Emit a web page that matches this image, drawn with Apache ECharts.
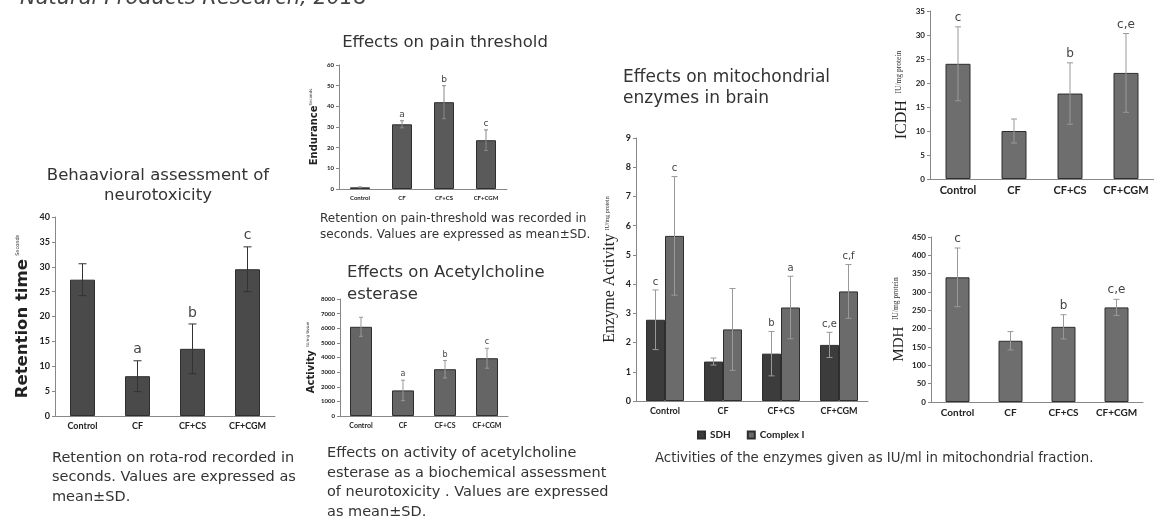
<!DOCTYPE html>
<html>
<head>
<meta charset="utf-8">
<script src="https://cdn.jsdelivr.net/npm/echarts@6/dist/echarts.min.js"></script>
<style>
  html, body { margin: 0; padding: 0; background: #fff; }
  #main { width: 1154px; height: 517px; }
</style>
</head>
<body>
<div id="main"></div>
<script>
// groups shared by every panel
const groups = ['Control', 'CF', 'CF+CS', 'CF+CGM'];

// behavioural assessment (rota-rod), seconds
const retentionMean = [27.4, 8.0, 13.5, 29.5];
const retentionSD = [3.2, 3.1, 5.0, 4.5];
const retentionSig = ['', 'a', 'b', 'c'];

// pain threshold, seconds
const painMean = [0.8, 31.3, 42.0, 23.6];
const painSD = [0.2, 1.7, 8.0, 5.0];
const painSig = ['', 'a', 'b', 'c'];

// acetylcholine esterase, IU/mg tissue
const acheMean = [6100, 1750, 3200, 3950];
const acheSD = [650, 700, 600, 680];
const acheSig = ['', 'a', 'b', 'c'];

// mitochondrial enzymes, IU/mg protein
const sdhMean = [2.78, 1.35, 1.62, 1.92];
const sdhSD = [1.02, 0.12, 0.76, 0.43];
const sdhSig = ['c', '', 'b', 'c,e'];
const complexMean = [5.65, 2.45, 3.2, 3.75];
const complexSD = [2.03, 1.4, 1.07, 0.92];
const complexSig = ['c', '', 'a', 'c,f'];

const icdhMean = [24.0, 10.0, 17.8, 22.1];
const icdhSD = [7.7, 2.5, 6.4, 8.2];
const icdhSig = ['c', '', 'b', 'c,e'];

const mdhMean = [340, 167, 205, 258];
const mdhSD = [80, 25, 33, 22];
const mdhSig = ['c', '', 'b', 'c,e'];

const SANS = 'DejaVu Sans';
const AX = 'Lato';
const SERIF = 'Liberation Serif';

function errorBars(sd, sig, shift, o) {
  return function (params, api) {
    const i = params.dataIndex;
    const v = api.value(1);
    const top = api.coord([i, v + sd[i]]);
    const bot = api.coord([i, Math.max(v - sd[i], 0)]);
    const x = top[0] + shift;
    const ls = { stroke: o.color, lineWidth: 1 };
    return {
      type: 'group',
      children: [
        { type: 'line', shape: { x1: x, y1: top[1], x2: x, y2: bot[1] }, style: ls },
        { type: 'line', shape: { x1: x - o.cap, y1: top[1], x2: x + o.cap, y2: top[1] }, style: ls },
        { type: 'line', shape: { x1: x - o.cap, y1: bot[1], x2: x + o.cap, y2: bot[1] }, style: ls },
        { type: 'text', style: { text: sig[i], x: x, y: top[1] - o.gap, align: 'center', verticalAlign: 'bottom',
          fontSize: o.fs, fontFamily: SANS, fill: '#444' } }
      ]
    };
  };
}

function pairs(arr) { return arr.map((v, i) => [i, v]); }

function xAx(idx, fs) {
  return {
    type: 'category', gridIndex: idx, data: groups,
    axisLine: { lineStyle: { color: '#888' } },
    axisTick: { length: 3, lineStyle: { color: '#888' } },
    axisLabel: { interval: 0, fontSize: fs, fontWeight: 'bold', fontFamily: AX, color: '#222', margin: 6 }
  };
}

function yAx(idx, max, step, fs, name, gap) {
  return {
    type: 'value', gridIndex: idx, min: 0, max: max, interval: step,
    splitLine: { show: false },
    axisLine: { show: true, lineStyle: { color: '#888' } },
    axisTick: { show: true, length: 3, lineStyle: { color: '#888' } },
    axisLabel: { fontSize: fs, fontWeight: 'bold', fontFamily: AX, color: '#222', margin: 5,
      formatter: v => String(v) },
    name: name.text, nameLocation: 'middle', nameRotate: 90, nameGap: gap,
    nameTextStyle: { rich: name.rich }
  };
}

function bar(name, xi, data, color, width) {
  return {
    name: name, type: 'bar', xAxisIndex: xi, yAxisIndex: xi, data: data, barWidth: width, barGap: '0%',
    itemStyle: { color: color, borderColor: '#2e2e2e', borderWidth: 1 }
  };
}

function err(xi, mean, sd, sig, shift, o) {
  return {
    type: 'custom', xAxisIndex: xi, yAxisIndex: xi, z: 5,
    data: pairs(mean), renderItem: errorBars(sd, sig, shift, o)
  };
}

function txt(text, left, top, fs, lh, extra) {
  return Object.assign({
    text: text, left: left, top: top, padding: 0,
    textStyle: { fontFamily: SANS, fontSize: fs, fontWeight: 'normal', color: '#333', lineHeight: lh }
  }, extra || {});
}

const chart = echarts.init(document.getElementById('main'));

const option = {
  backgroundColor: '#fff',
  animation: false,
  title: [
    { text: 'Natural Products Research, 2018', left: 20, top: -12, padding: 0,
      textStyle: { fontFamily: SANS, fontSize: 21, fontWeight: 'normal', fontStyle: 'italic', color: '#444' } },
    txt('Behaavioral assessment of\nneurotoxicity', 158, 166, 16.5, 20, { textAlign: 'center' }),
    txt('Effects on pain threshold', 445, 33, 16.5, 20, { textAlign: 'center' }),
    txt('Effects on Acetylcholine\nesterase', 347, 262, 16.5, 22),
    txt('Effects on mitochondrial\nenzymes in brain', 623, 67, 17, 21),
    txt('Retention on rota-rod recorded in\nseconds. Values are expressed as\nmean\u00b1SD.', 52, 448, 14.5, 19.5),
    txt('Retention on pain-threshold was recorded in\nseconds. Values are expressed as mean\u00b1SD.', 320, 211, 12, 16),
    txt('Effects on activity of acetylcholine\nesterase as a biochemical assessment\nof neurotoxicity . Values are expressed\nas mean\u00b1SD.', 327, 444, 14.5, 19.4),
    txt('Activities of the enzymes given as IU/ml in mitochondrial fraction.', 655, 451, 13.3, 16)
  ],
  legend: {
    data: ['SDH', 'Complex I'], left: 697, top: 430, padding: 0, icon: 'rect', itemWidth: 7, itemHeight: 7, itemGap: 16,
    textStyle: { fontFamily: AX, fontWeight: 'bold', fontSize: 10, color: '#222' }
  },
  grid: [
    { left: 55, top: 217, width: 220, height: 199 },
    { left: 339, top: 65, width: 168, height: 124 },
    { left: 340, top: 299, width: 168, height: 117 },
    { left: 636, top: 138, width: 232, height: 263 },
    { left: 930, top: 11, width: 224, height: 168 },
    { left: 931, top: 237, width: 212, height: 165 }
  ],
  xAxis: [xAx(0, 9), xAx(1, 6), xAx(2, 7), xAx(3, 9), xAx(4, 11), xAx(5, 10)],
  yAxis: [
    yAx(0, 40, 5, 9, { text: '{m|Retention time} {s|Seconds}',
      rich: { m: { fontFamily: SANS, fontWeight: 'bold', fontSize: 16.5, color: '#222' },
              s: { fontFamily: SANS, fontSize: 5, color: '#333', padding: [0, 0, 10, 0] } } }, 24),
    yAx(1, 60, 10, 6, { text: '{m|Endurance}{s|Seconds}',
      rich: { m: { fontFamily: SANS, fontWeight: 'bold', fontSize: 10, color: '#222' },
              s: { fontFamily: SANS, fontSize: 4, color: '#333', padding: [0, 0, 7, 0] } } }, 19),
    yAx(2, 8000, 1000, 6, { text: '{m|Activity} {s|IU/mg tissue}',
      rich: { m: { fontFamily: SANS, fontWeight: 'bold', fontSize: 10, color: '#222' },
              s: { fontFamily: SANS, fontSize: 4, color: '#333', padding: [0, 0, 7, 0] } } }, 23),
    yAx(3, 9, 1, 9, { text: '{m|Enzyme Activity} {s|IU/mg protein}',
      rich: { m: { fontFamily: SERIF, fontSize: 16, color: '#222' },
              s: { fontFamily: SERIF, fontSize: 6, color: '#333', padding: [0, 0, 6, 0] } } }, 18),
    yAx(4, 35, 5, 8, { text: '{m|ICDH}  {s|IU/mg protein}',
      rich: { m: { fontFamily: SERIF, fontSize: 16, color: '#222' },
              s: { fontFamily: SERIF, fontSize: 7.5, color: '#333', padding: [0, 0, 6, 0] } } }, 20),
    yAx(5, 450, 50, 8, { text: '{m|MDH}  {s|IU/mg protein}',
      rich: { m: { fontFamily: SERIF, fontSize: 15, color: '#222' },
              s: { fontFamily: SERIF, fontSize: 7.5, color: '#333', padding: [0, 0, 6, 0] } } }, 24)
  ],
  series: [
    bar('Retention', 0, retentionMean, '#4a4a4a', 25),
    err(0, retentionMean, retentionSD, retentionSig, 0, { color: '#333', cap: 4, gap: 4, fs: 14 }),
    bar('Endurance', 1, painMean, '#5a5a5a', 20),
    err(1, painMean, painSD, painSig, 0, { color: '#888', cap: 2, gap: 2, fs: 9 }),
    bar('Activity', 2, acheMean, '#656565', 22),
    err(2, acheMean, acheSD, acheSig, 0, { color: '#999', cap: 2, gap: 2, fs: 8 }),
    bar('SDH', 3, sdhMean, '#3c3c3c', 19),
    bar('Complex I', 3, complexMean, '#6b6b6b', 19),
    err(3, sdhMean, sdhSD, sdhSig, -9.5, { color: '#999', cap: 3, gap: 3, fs: 10 }),
    err(3, complexMean, complexSD, complexSig, 9.5, { color: '#999', cap: 3, gap: 3, fs: 10 }),
    bar('ICDH', 4, icdhMean, '#6e6e6e', 25),
    err(4, icdhMean, icdhSD, icdhSig, 0, { color: '#999', cap: 3, gap: 3, fs: 12 }),
    bar('MDH', 5, mdhMean, '#6e6e6e', 24),
    err(5, mdhMean, mdhSD, mdhSig, 0, { color: '#999', cap: 3, gap: 3, fs: 12 })
  ]
};

chart.setOption(option);
</script>
</body>
</html>
